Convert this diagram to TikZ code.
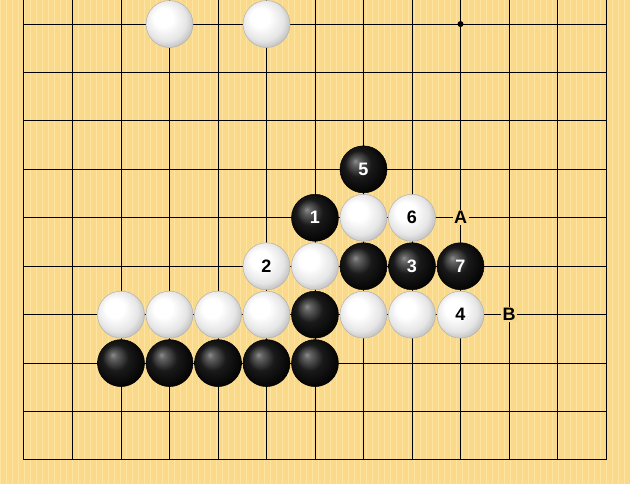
\documentclass[tikz,border=0pt]{standalone}
\usepackage{fontspec}
\setmainfont{Liberation Sans}

\definecolor{board}{RGB}{250,217,138}
\definecolor{boardlight}{RGB}{253,228,160}
\pgfdeclareradialshading{whitestone}{\pgfpoint{-9bp}{9bp}}{color(0bp)=(white); color(10bp)=(white); color(22bp)=(black!10); color(32bp)=(black!32); color(40bp)=(black!42)}
\pgfdeclareradialshading{blackstone}{\pgfpoint{-9bp}{9bp}}{color(0bp)=(black!45); color(4bp)=(black!62); color(14bp)=(black!90); color(30bp)=(black); color(40bp)=(black!85)}

\tikzset{
    gridline/.style={line width=1pt, black},
    wstone/.style={circle, minimum size=47pt, inner sep=0pt, shading=whitestone, draw=black!30, line width=0.5pt, text=black, font=\bfseries\fontsize{18}{18}\selectfont},
    bstone/.style={circle, minimum size=47pt, inner sep=0pt, shading=blackstone, draw=black, line width=0.5pt, text=white, font=\bfseries\fontsize{18}{18}\selectfont},
    boardlabel/.style={fill=board, inner sep=1.5pt, text=black, font=\bfseries\fontsize{18}{18}\selectfont},
    hoshi/.style={circle, fill=black, inner sep=0pt, minimum size=6pt}
}

\begin{document}
\begin{tikzpicture}[x=48.5pt,y=48.44pt]
        \useasboundingbox (-24pt,-24pt) rectangle (606pt,460pt);
        \fill[board] (-24pt,-24pt) rectangle (606pt,460pt);
        \foreach \i in {0,2,...,208}
            {
                \fill[boardlight] (-24pt+3*\i pt,-24pt) rectangle (-22.8pt+3*\i pt,460pt);
            }

        % board lines
        \foreach \x in {1,2,...,11}
            {
                \draw[gridline] (\x,0) -- (\x,9.5);
            }
        \foreach \y in {1,2,...,9}
            {
                \draw[gridline] (0,\y) -- (12,\y);
            }
        \draw[gridline] (0,9.5) -- (0,0) -- (12,0) -- (12,9.5);
        \node[hoshi] (star) at (9,9) {};

        % stones
        \foreach \x/\y in {3/9, 5/9, 7/5, 6/4, 2/3, 3/3, 4/3, 5/3, 7/3, 8/3}
            {
                \node[wstone] (W\x\y) at (\x,\y) {};
            }
        \foreach \x/\y in {7/4, 6/3, 2/2, 3/2, 4/2, 5/2, 6/2}
            {
                \node[bstone] (B\x\y) at (\x,\y) {};
            }
        \foreach \n/\x/\y in {1/6/5, 3/8/4, 5/7/6, 7/9/4}
            {
                \node[bstone] (M\n) at (\x,\y) {\n};
            }
        \foreach \n/\x/\y in {2/5/4, 4/9/3, 6/8/5}
            {
                \node[wstone] (M\n) at (\x,\y) {\n};
            }
        \node[boardlabel] (lblA) at (9,5) {A};
        \node[boardlabel] (lblB) at (10,3) {B};
    \end{tikzpicture}
\end{document}
